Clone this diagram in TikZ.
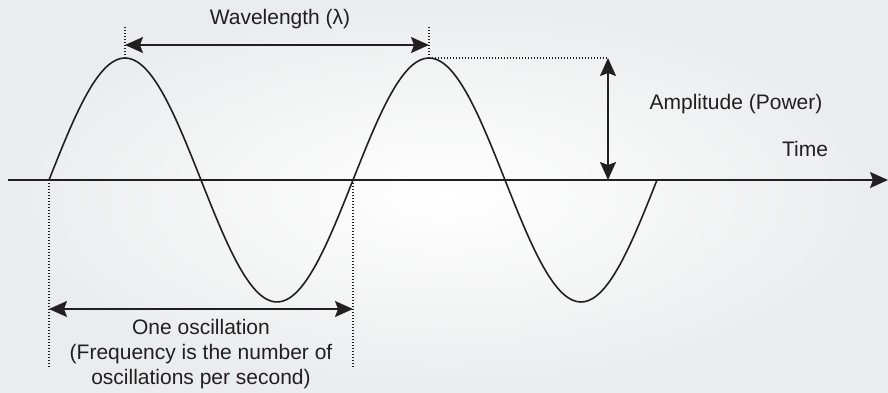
\documentclass[tikz,border=0pt]{standalone}
\usepackage{fontspec}
\setmainfont{Liberation Sans}
\usetikzlibrary{arrows.meta, positioning}
\definecolor{ink}{HTML}{231F20}
\definecolor{bgedge}{HTML}{EBECED}

\begin{document}
\begin{tikzpicture}[
  x=1pt, y=1pt,
  arr/.style={{Stealth[length=18pt, width=16pt, inset=3pt]}-{Stealth[length=18pt, width=16pt, inset=3pt]},
              line width=1.6pt, color=ink},
  ax/.style={-{Stealth[length=18pt, width=16pt, inset=3pt]}, line width=1.6pt, color=ink},
  dots/.style={line width=1.2pt, color=ink, dash pattern=on 1.2pt off 1.8pt},
  lbl/.style={font=\fontsize{21}{25}\selectfont, text=ink, align=center, inner sep=0pt}
]
% background
\shade[inner color=white, outer color=bgedge] (0,180) rectangle (888,-212);
\useasboundingbox (0,180) rectangle (888,-212);

% key points
\coordinate (o)   at (49,0);
\coordinate (z2)  at (353,0);
\coordinate (pk1) at (125,122);
\coordinate (pk2) at (429,122);
\coordinate (w1)  at (125,153);
\coordinate (w2)  at (429,153);
\coordinate (amt) at (608,122);
\coordinate (amb) at (608,0);
\coordinate (d1)  at (49,-187);
\coordinate (d2)  at (353,-187);
\coordinate (axl) at (8,0);
\coordinate (axr) at (888,0);

% axis and wave
\draw[ax] (axl) -- (axr);
\draw[line width=1.6pt, color=ink, smooth, samples=160, domain=49:657]
  plot (\x, {122*sin((\x-49)/304*360)});

% guides
\draw[dots] (pk1) -- (w1);
\draw[dots] (pk2) -- (w2);
\draw[dots] (pk2) -- (amt);
\draw[dots] (o) -- (d1);
\draw[dots] (z2) -- (d2);

% dimension arrows
\draw[arr] ([yshift=-18pt]w1) -- ([yshift=-18pt]w2);
\draw[arr] (amt) -- (amb);
\draw[arr] ([yshift=-129pt]o) -- ([yshift=-129pt]z2);

% labels
\node[lbl] (wl)   at (280,161) {Wavelength (λ)};
\node[lbl] (amp)  at (736,76)  {Amplitude (Power)};
\node[lbl] (time) at (805,31)  {Time};
\node[lbl, anchor=north] (osc) at (201,-139)
  {One oscillation\\(Frequency is the number of\\oscillations per second)};
\end{tikzpicture}
\end{document}
